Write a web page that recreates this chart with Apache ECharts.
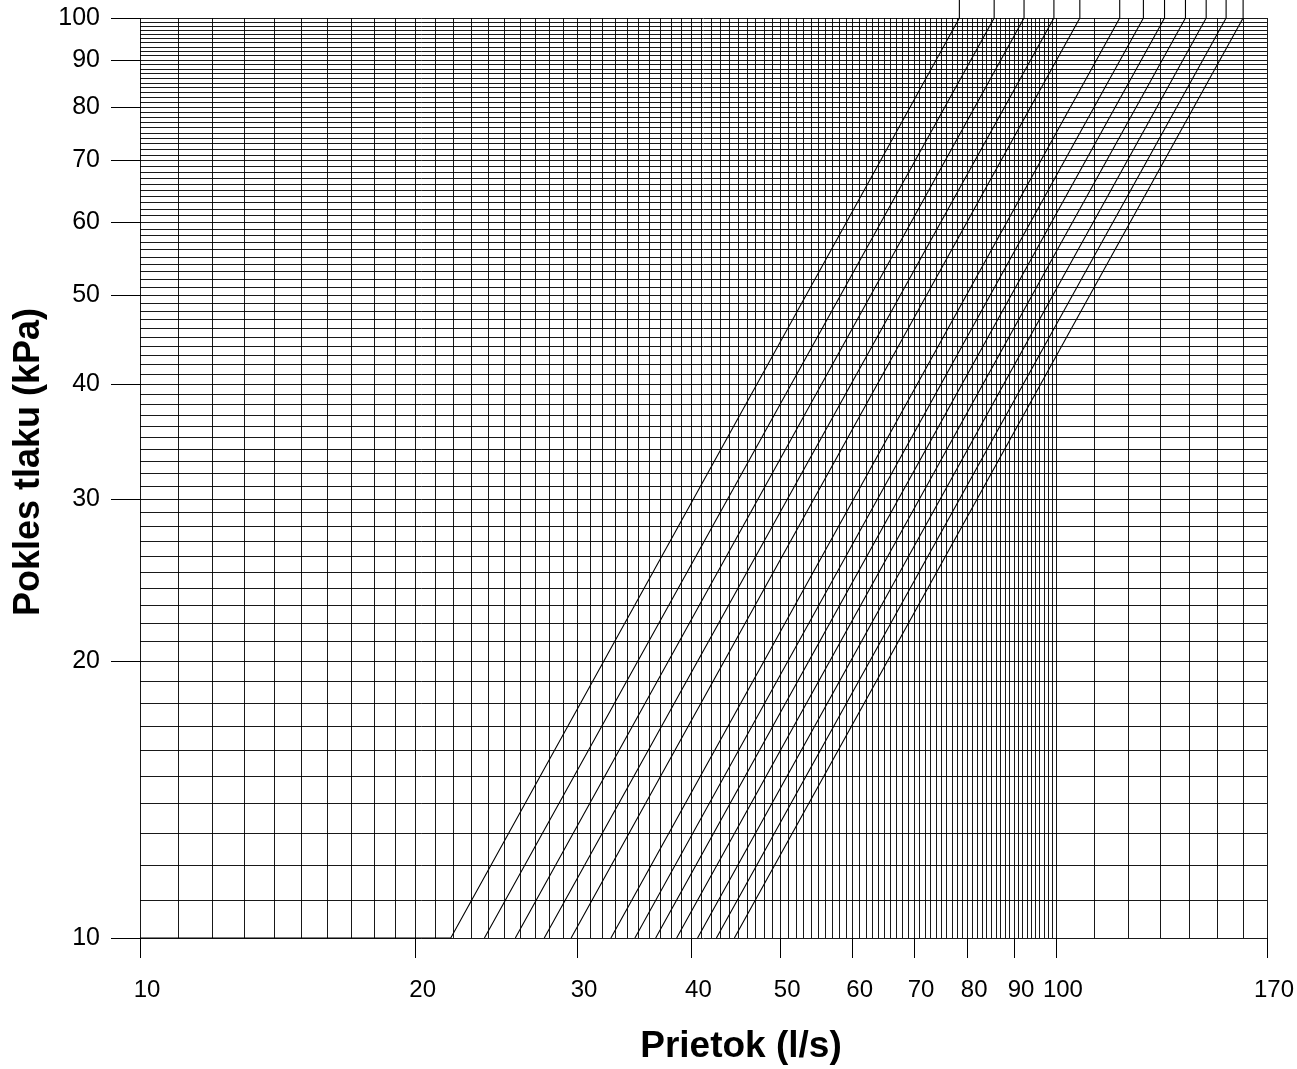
<!DOCTYPE html>
<html>
<head>
<meta charset="utf-8">
<script src="https://cdn.jsdelivr.net/npm/echarts@6/dist/echarts.min.js"></script>
<style>
html,body{margin:0;padding:0;background:#fff;overflow:hidden;}
#chart{width:1297px;height:1069px;}
</style>
</head>
<body>
<div id="chart"></div>
<script>
// Flow (l/s) where each curve crosses 10 kPa and 100 kPa
const startFlow = [21.84, 23.77, 25.69, 27.63, 29.56, 32.67, 34.70, 36.56, 38.54, 40.62, 42.59, 44.56];
const endFlow   = [78.45, 85.62, 92.30, 99.50, 106.2, 117.4, 124.6, 131.4, 138.5, 145.9, 153.4, 160.1];
const dpLow = 10;
const dpHigh = 100;
const dpMark = 104.6; // top of marker tick above the chart

const xTickLabels = [10, 20, 30, 40, 50, 60, 70, 80, 90, 100, 170];
const yTickLabels = [10, 20, 30, 40, 50, 60, 70, 80, 90, 100];

const xTitle = 'Prietok (l/s)';
const yTitle = 'Pokles tlaku (kPa)';

// grid values
const xGrid = [];
for (let v = 10; v <= 100; v++) xGrid.push(v);
for (let v = 110; v <= 170; v += 10) xGrid.push(v);
const yGrid = [];
for (let v = 10; v <= 100; v++) yGrid.push(v);

const FONT = '"Liberation Sans", Arial, Helvetica, sans-serif';

const series = startFlow.map((s, i) => {
  const data = [];
  if (i === 0) data.push([10, dpLow]);
  data.push([s, dpLow], [endFlow[i], dpHigh], [endFlow[i], dpMark]);
  return {
    type: 'line',
    xAxisIndex: 0, yAxisIndex: 0,
    data: data,
    symbol: 'none',
    clip: false,
    silent: true,
    z: 5,
    lineStyle: {color: '#000', width: 1.1}
  };
});

series.push({
  type: 'line',
  xAxisIndex: 0, yAxisIndex: 0,
  data: [[10, 10]],
  symbol: 'none',
  silent: true,
  z: 3,
  lineStyle: {width: 0},
  markLine: {
    silent: true,
    symbol: ['none', 'none'],
    animation: false,
    label: {show: false},
    lineStyle: {color: '#000', width: 1, type: 'solid', opacity: 0.9},
    data: xGrid.map(v => ({xAxis: v})).concat(yGrid.map(v => ({yAxis: v})))
  }
});

const chart = echarts.init(document.getElementById('chart'), null, {renderer: 'canvas', width: 1297, height: 1069});
chart.setOption({
  animation: false,
  backgroundColor: '#fff',
  grid: {left: 140, top: 18, width: 1132, height: 920, containLabel: false},
  xAxis: [
    {type: 'log', logBase: 10, min: 10, max: 170, show: false},
    {
      type: 'value', min: 1, max: Math.log10(170), position: 'bottom',
      axisLine: {show: false},
      splitLine: {show: false},
      axisTick: {show: true, inside: false, length: 20, customValues: xTickLabels.map(Math.log10), lineStyle: {color: '#000', width: 1}},
      axisLabel: {
        customValues: xTickLabels.map(Math.log10),
        formatter: v => String(Math.round(Math.pow(10, v))),
        margin: 40, fontSize: 24, color: '#000', fontFamily: FONT,
        padding: [0, 0, 0, 14]
      }
    }
  ],
  yAxis: [
    {type: 'log', logBase: 10, min: 10, max: 100, show: false},
    {
      type: 'value', min: 1, max: 2, position: 'left',
      axisLine: {show: false},
      splitLine: {show: false},
      axisTick: {show: true, inside: false, length: 29, customValues: yTickLabels.map(Math.log10), lineStyle: {color: '#000', width: 1}},
      axisLabel: {
        customValues: yTickLabels.map(Math.log10),
        formatter: v => String(Math.round(Math.pow(10, v))),
        margin: 40, fontSize: 25, color: '#000', fontFamily: FONT,
        padding: [10, 0, 0, 0]
      }
    }
  ],
  graphic: [
    {type: 'text', style: {text: xTitle, x: 0, y: 0, font: 'bold 37px ' + FONT, fill: '#000', textAlign: 'center', textVerticalAlign: 'middle'}, position: [741, 1047]},
    {type: 'text', style: {text: yTitle, x: 0, y: 0, font: 'bold 36px ' + FONT, fill: '#000', textAlign: 'center', textVerticalAlign: 'middle'}, position: [29, 462], rotation: Math.PI / 2}
  ],
  series: series
});
</script>
</body>
</html>
